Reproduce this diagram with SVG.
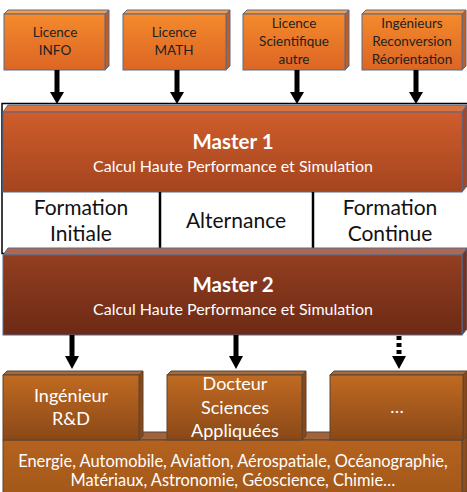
<svg xmlns="http://www.w3.org/2000/svg" width="467" height="492" viewBox="0 0 467 492">
<defs>
<linearGradient id="gTop" x1="0" y1="0" x2="0" y2="1"><stop offset="0" stop-color="#f48a2c"/><stop offset="1" stop-color="#dc6524"/></linearGradient>
<linearGradient id="gM1" x1="0" y1="0" x2="0" y2="1"><stop offset="0" stop-color="#cf5d2b"/><stop offset="1" stop-color="#a4441f"/></linearGradient>
<linearGradient id="gM2" x1="0" y1="0" x2="0" y2="1"><stop offset="0" stop-color="#933e20"/><stop offset="1" stop-color="#6c2a15"/></linearGradient>
<linearGradient id="gOut" x1="0" y1="0" x2="0" y2="1"><stop offset="0" stop-color="#c06a22"/><stop offset="1" stop-color="#8a4817"/></linearGradient>
<linearGradient id="gBase" x1="0" y1="0" x2="0" y2="1"><stop offset="0" stop-color="#b5621f"/><stop offset="1" stop-color="#a25819"/></linearGradient>
</defs>
<style>
.t{font-family:Lato,"Open Sans","Liberation Sans",sans-serif;text-anchor:middle}
.top{fill:#222;font-size:13.5px}
.w{fill:#ffffff}
.blk{fill:#000}
.mid{font-size:21px;fill:#111}
.sh{stroke:#556b8e;stroke-width:1}
.shb{stroke:#5a4532;stroke-width:1}
.arr{stroke:#000;stroke-width:5;fill:none}
.ttl{font-size:20.5px;font-weight:bold}
.sub{font-size:16px}
.out{font-size:18px}
.base{font-size:16.4px}
</style>
<rect width="467" height="492" fill="#ffffff"/>
<g id="frame">
<rect x="2" y="103.5" width="470" height="150" fill="#ffffff" stroke="#000" stroke-width="1.5"/>
</g>
<g id="licInfo">
<polygon points="105,14 109,10 109,66 105,70" fill="#c65a1f" class="sh"/>
<polygon points="4,14 8,10 109,10 105,14" fill="#f59a45" class="sh"/>
<rect x="4" y="14" width="101" height="56" fill="url(#gTop)" class="sh"/>
<text class="t top" x="55" y="37">Licence</text>
<text class="t top" x="55" y="55">INFO</text>
</g>
<g id="licMath">
<polygon points="226,14 230,10 230,66 226,70" fill="#c65a1f" class="sh"/>
<polygon points="123,14 127,10 230,10 226,14" fill="#f59a45" class="sh"/>
<rect x="123" y="14" width="103" height="56" fill="url(#gTop)" class="sh"/>
<text class="t top" x="174" y="37">Licence</text>
<text class="t top" x="174" y="55">MATH</text>
</g>
<g id="licSci">
<polygon points="345,14 349,10 349,66 345,70" fill="#c65a1f" class="sh"/>
<polygon points="243,14 247,10 349,10 345,14" fill="#f59a45" class="sh"/>
<rect x="243" y="14" width="102" height="56" fill="url(#gTop)" class="sh"/>
<text class="t top" x="294" y="28">Licence</text>
<text class="t top" x="294" y="46">Scientifique</text>
<text class="t top" x="294" y="64">autre</text>
</g>
<g id="ingenieurs">
<polygon points="462,14 466,10 466,66 462,70" fill="#c65a1f" class="sh"/>
<polygon points="362,14 366,10 466,10 462,14" fill="#f59a45" class="sh"/>
<rect x="362" y="14" width="100" height="56" fill="url(#gTop)" class="sh"/>
<text class="t top" x="412" y="28">Ingénieurs</text>
<text class="t top" x="412" y="46">Reconversion</text>
<text class="t top" x="412" y="64">Réorientation</text>
</g>
<g id="master1">
<polygon points="3,112 8,105 467,105 462,112" fill="#d9733f" class="sh"/>
<polygon points="462,112 467,105 467,186 462,192" fill="#a9461f" class="sh"/>
<rect x="3" y="112" width="459" height="80" fill="url(#gM1)" class="sh"/>
<text class="t w ttl" x="233" y="149">Master 1</text>
<text class="t w sub" x="233" y="172">Calcul Haute Performance et Simulation</text>
</g>
<g id="formations">
<line x1="160" y1="192" x2="160" y2="248" stroke="#000" stroke-width="2.5"/>
<line x1="313" y1="192" x2="313" y2="248" stroke="#000" stroke-width="2.5"/>
<text class="t mid" x="81" y="215">Formation</text>
<text class="t mid" x="81" y="241">Initiale</text>
<text class="t mid" x="236" y="228">Alternance</text>
<text class="t mid" x="390" y="215">Formation</text>
<text class="t mid" x="390" y="241">Continue</text>
</g>
<g id="master2">
<polygon points="3,255 8,248 467,248 462,255" fill="#b0684e" class="sh"/>
<polygon points="462,255 467,248 467,329 462,335" fill="#7a3118" class="sh"/>
<rect x="3" y="255" width="459" height="80" fill="url(#gM2)" class="sh"/>
<text class="t w ttl" x="233" y="292">Master 2</text>
<text class="t w sub" x="233" y="315">Calcul Haute Performance et Simulation</text>
</g>
<g id="secteurs">
<polygon points="3,440 11,432 467,432 462,440" fill="#a0643c" class="shb"/>
<polygon points="462,440 467,432 467,492 462,492" fill="#8f4e18" class="shb"/>
<rect x="3" y="440" width="459" height="56" fill="url(#gBase)" class="shb"/>
<text class="t w base" x="233" y="467">Energie, Automobile, Aviation, Aérospatiale, Océanographie,</text>
<text class="t w base" x="233" y="486">Matériaux, Astronomie, Géoscience, Chimie…</text>
</g>
<g id="ingRD">
<polygon points="3,375 7,371 143,371 139,375" fill="#a8693c" class="shb"/>
<polygon points="139,375 143,371 143,436 139,440" fill="#8a4818" class="shb"/>
<rect x="3" y="375" width="136" height="65" fill="url(#gOut)" class="shb"/>
<text class="t w out" x="71" y="402">Ingénieur</text>
<text class="t w out" x="71" y="425">R&amp;D</text>
</g>
<g id="docteur">
<polygon points="167,375 171,371 306,371 302,375" fill="#a8693c" class="shb"/>
<polygon points="302,375 306,371 306,436 302,440" fill="#8a4818" class="shb"/>
<rect x="167" y="375" width="135" height="65" fill="url(#gOut)" class="shb"/>
<text class="t w out" x="235" y="390">Docteur</text>
<text class="t w out" x="235" y="414">Sciences</text>
<text class="t w out" x="235" y="437">Appliquées</text>
</g>
<g id="autres">
<polygon points="330,375 334,371 467,371 463,375" fill="#a8693c" class="shb"/>
<polygon points="463,375 467,371 467,436 463,440" fill="#8a4818" class="shb"/>
<rect x="330" y="375" width="133" height="65" fill="url(#gOut)" class="shb"/>
<text class="t w out" x="397" y="413">…</text>
</g>
<g id="connectors">
<line class="arr" x1="57" y1="70" x2="57" y2="93"/><polygon class="blk" points="50,92 64,92 57,104"/>
<line class="arr" x1="177" y1="70" x2="177" y2="93"/><polygon class="blk" points="170,92 184,92 177,104"/>
<line class="arr" x1="297" y1="70" x2="297" y2="93"/><polygon class="blk" points="290,92 304,92 297,104"/>
<line class="arr" x1="416" y1="70" x2="416" y2="93"/><polygon class="blk" points="409,92 423,92 416,104"/>
<line class="arr" x1="72" y1="335" x2="72" y2="357"/><polygon class="blk" points="65,356 79,356 72,369"/>
<line class="arr" x1="236" y1="335" x2="236" y2="357"/><polygon class="blk" points="229,356 243,356 236,369"/>
<line class="arr" x1="399" y1="336" x2="399" y2="357" stroke-dasharray="4 3"/><polygon class="blk" points="392,356 406,356 399,369"/>
</g>
</svg>
